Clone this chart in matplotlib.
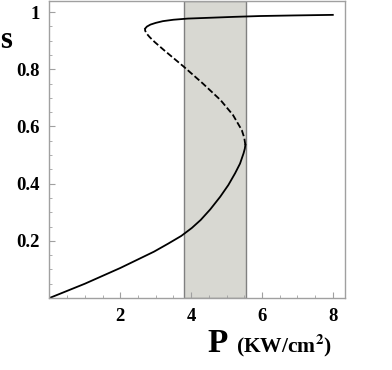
import matplotlib
matplotlib.use("Agg")
import matplotlib.pyplot as plt
from matplotlib.ticker import MultipleLocator

# values: s (vertical) and P (horizontal) along each branch
s_low = [0.0, 0.05, 0.105, 0.135, 0.162, 0.19, 0.217, 0.245, 0.273, 0.31, 0.354,
         0.395, 0.436, 0.47, 0.506, 0.522, 0.535]
p_low = [0.0, 1.0, 2.0, 2.5, 2.95, 3.35, 3.72, 4.02, 4.27, 4.54, 4.82,
         5.05, 5.24, 5.38, 5.48, 5.515, 5.53]

s_mid = [0.535, 0.56, 0.587, 0.64, 0.692, 0.75, 0.809, 0.867, 0.895, 0.912, 0.925, 0.935, 0.942]
p_mid = [5.53, 5.5, 5.43, 5.18, 4.83, 4.33, 3.79, 3.23, 2.97, 2.83, 2.74, 2.70, 2.70]

s_up = [0.942, 0.949, 0.956, 0.962, 0.968, 0.973, 0.977, 0.98, 0.983, 0.986, 0.988, 0.99]
p_up = [2.70, 2.75, 2.85, 3.0, 3.2, 3.5, 3.9, 4.55, 5.2, 5.96, 6.9, 8.0]

band = (3.81, 5.55)

xticks = [2, 4, 6, 8]
yticks = [0.2, 0.4, 0.6, 0.8, 1.0]
ylabels = ["0.2", "0.4", "0.6", "0.8", "1"]

fig = plt.figure(figsize=(3.92, 3.70), dpi=100)
ax = fig.add_axes([49.5 / 392, 1 - 298 / 370, 295 / 392, 297 / 370])

ax.axvspan(band[0], band[1], facecolor="#d8d8d2", edgecolor="#808080", lw=1.0, zorder=0)

ax.plot(p_low, s_low, color="black", lw=1.3)
ax.plot(p_mid, s_mid, color="black", lw=1.3, dashes=(3.5, 1.5))
ax.plot(p_up, s_up, color="black", lw=1.3)

ax.set_xlim(0, 8.33)
ax.set_ylim(0, 1.0385)

for sp in ax.spines.values():
    sp.set_color("#a0a0a0")
    sp.set_linewidth(1.0)

ax.set_xticks(xticks)
ax.set_xticklabels([str(t) for t in xticks])
ax.set_yticks(yticks)
ax.set_yticklabels(ylabels)
ax.xaxis.set_minor_locator(MultipleLocator(0.5))
ax.yaxis.set_minor_locator(MultipleLocator(0.05))
ax.tick_params(which="both", direction="in", top=False, right=False, color="#a0a0a0")
ax.tick_params(which="major", length=4, width=0.8, pad=7)
ax.tick_params(which="minor", length=2, width=0.6)
for lab in ax.get_xticklabels() + ax.get_yticklabels():
    lab.set_fontfamily("Liberation Serif")
    lab.set_fontweight("bold")
    lab.set_fontsize(13.5)

fig.text(6.5 / 392, 1 - 48 / 370, "s", fontfamily="Liberation Serif", fontweight="bold",
         fontsize=22, ha="center", va="baseline")
fig.text(218 / 392, 1 - 352 / 370, "P", fontfamily="Liberation Serif", fontweight="bold",
         fontsize=24, ha="center", va="baseline")
fig.text(236 / 392, 1 - 352 / 370, "(KW/cm$^\\mathbf{2}$)", fontfamily="Liberation Serif",
         fontweight="bold", fontsize=15.5, ha="left", va="baseline", math_fontfamily="stix")

fig.savefig("out.png", dpi=100)
